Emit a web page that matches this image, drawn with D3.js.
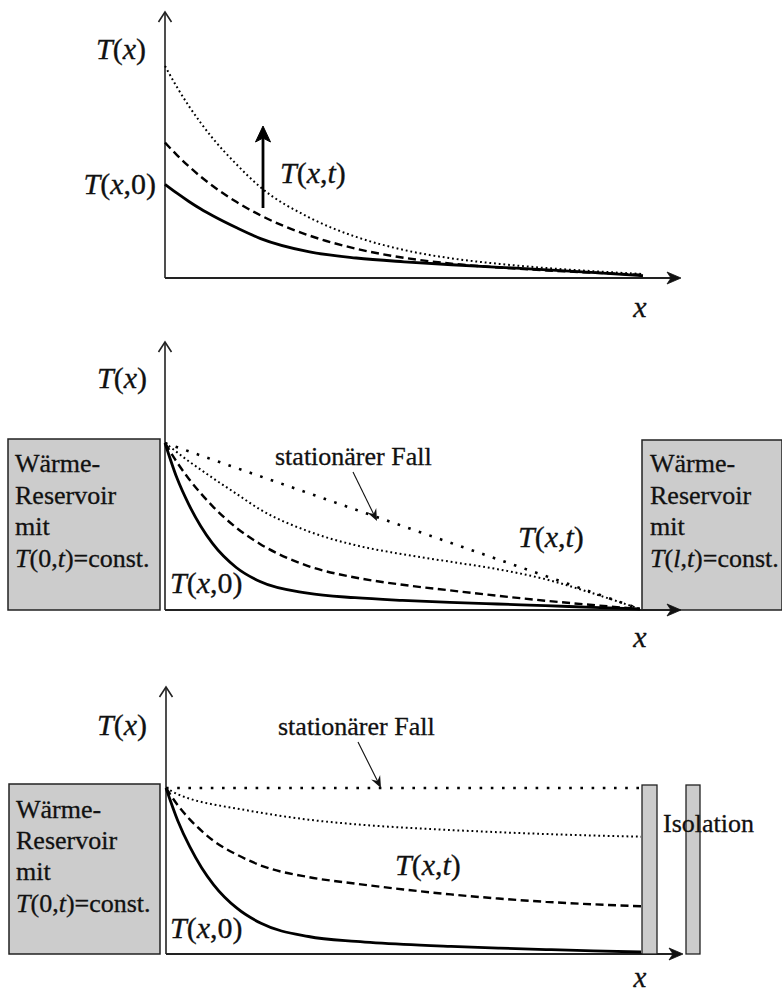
<!DOCTYPE html>
<html>
<head>
<meta charset="utf-8">
<script src="https://cdn.jsdelivr.net/npm/d3@7"></script>
<style>
  html, body { margin: 0; padding: 0; background: #fff; }
  svg { display: block; }
  text { font-family: "Liberation Serif", "Times New Roman", serif; fill: #111; stroke: #111; stroke-width: 0.3; }
</style>
</head>
<body>
<svg id="chart" width="782" height="994" font-family="'Liberation Serif', 'Times New Roman', serif"></svg>
<script>
// Position along the rod (arbitrary units 0..10) at which each profile is sampled
const xs = [0, 0.25, 0.5, 0.75, 1, 1.5, 2, 3, 4, 5, 6, 7, 8, 9, 10];

// Panel 1: free rod, temperature rising with time
const p1Initial = [4.39, 3.97, 3.58, 3.22, 2.9, 2.33, 1.82, 1.2, 0.9, 0.72, 0.58, 0.46, 0.34, 0.21, 0.06];
const p1Mid     = [6.37, 5.78, 5.24, 4.75, 4.31, 3.55, 2.92, 1.98, 1.34, 0.91, 0.63, 0.45, 0.31, 0.2, 0.1];
const p1Late    = [10, 9.0, 8.1, 7.3, 6.57, 5.33, 4.25, 2.84, 1.9, 1.28, 0.88, 0.62, 0.42, 0.27, 0.14];

// Panel 2: reservoirs at both ends
const p2Initial = [10, 7.9, 6.3, 5.0, 3.95, 2.5, 1.65, 0.95, 0.68, 0.52, 0.4, 0.3, 0.2, 0.1, 0];
const p2Mid     = [10, 8.85, 7.85, 6.98, 6.2, 4.9, 3.92, 2.6, 1.9, 1.46, 1.12, 0.8, 0.5, 0.24, 0];
const p2Late    = [10, 9.45, 8.9, 8.4, 7.9, 6.95, 6.0, 4.7, 3.85, 3.3, 2.85, 2.4, 1.8, 0.95, 0];
const p2SteadyX = [0, 10];
const p2Steady  = [10, 0];

// Panel 3: reservoir on the left, insulated right end
const p3Initial = [10, 8.0, 6.44, 5.17, 4.15, 2.7, 1.8, 1.0, 0.7, 0.52, 0.4, 0.3, 0.21, 0.13, 0.06];
const p3Mid     = [10, 8.95, 8.1, 7.4, 6.8, 5.95, 5.3, 4.6, 4.2, 3.85, 3.55, 3.3, 3.1, 2.95, 2.83];
const p3Late    = [10, 9.62, 9.35, 9.15, 9.0, 8.75, 8.5, 8.08, 7.8, 7.6, 7.45, 7.32, 7.21, 7.12, 7.05];
const p3SteadyX = [0, 10];
const p3Steady  = [10, 10];

const FONT = "'Liberation Serif', 'Times New Roman', serif";
const svg = d3.select("#chart");

const styles = {
  solid:  { width: 2.8, dash: null },
  dashed: { width: 2.4, dash: "8,4.5" },
  dotted: { width: 2.0, dash: "1.8,2.9" },
  sparse: { width: 2.6, dash: "2.6,8.6" }
};

function drawCurve(g, x, y, xv, yv, style) {
  const st = styles[style];
  const line = d3.line()
    .x(d => x(d[0]))
    .y(d => y(d[1]))
    .curve(d3.curveMonotoneX);
  g.append("path")
    .datum(d3.zip(xv, yv))
    .attr("d", line)
    .attr("fill", "none")
    .attr("stroke", "#000")
    .attr("stroke-width", st.width)
    .attr("stroke-dasharray", st.dash);
}

function drawAxes(g, x0, axisTop, base, xEnd) {
  // vertical axis with open chevron
  g.append("line").attr("x1", x0).attr("y1", base).attr("x2", x0).attr("y2", axisTop + 1)
    .attr("stroke", "#222").attr("stroke-width", 1.6);
  g.append("path")
    .attr("d", `M${x0 - 6.5},${axisTop + 10} L${x0},${axisTop} L${x0 + 6.5},${axisTop + 10}`)
    .attr("fill", "none").attr("stroke", "#222").attr("stroke-width", 1.6);
  // horizontal axis with stealth head
  g.append("line").attr("x1", x0).attr("y1", base).attr("x2", xEnd - 4).attr("y2", base)
    .attr("stroke", "#222").attr("stroke-width", 1.8);
  g.append("path")
    .attr("d", `M${xEnd},${base} L${xEnd - 14},${base - 6} L${xEnd - 10},${base} L${xEnd - 14},${base + 6} Z`)
    .attr("fill", "#111").attr("stroke", "#111").attr("stroke-width", 0.8);
}

function mathLabel(g, x, y, parts, size, anchor) {
  const t = g.append("text").attr("x", x).attr("y", y)
    .attr("font-family", FONT)
    .attr("font-size", size).attr("text-anchor", anchor || "start");
  parts.forEach(p => {
    t.append("tspan").text(p[0]).attr("font-style", p[1] ? "italic" : "normal");
  });
  return t;
}

function plainText(g, x, y, s, size) {
  return g.append("text").attr("x", x).attr("y", y)
    .attr("font-family", FONT).attr("font-size", size).text(s);
}

function reservoir(g, x, y, w, h) {
  g.append("rect").attr("x", x).attr("y", y).attr("width", w).attr("height", h)
    .attr("fill", "#cccccc").attr("stroke", "#222").attr("stroke-width", 1.5);
}

function boxText(g, x, baselines, endVar) {
  ["Wärme-", "Reservoir", "mit"].forEach((s, i) => plainText(g, x, baselines[i], s, 26));
  mathLabel(g, x, baselines[3],
    [["T", true], ["(", false], endVar, [",", false], ["t", true], [")=const.", false]], 26);
}

function pointer(g, x1, y1, x2, y2) {
  const a = Math.atan2(y2 - y1, x2 - x1);
  const L = 12, W = 5;
  const bx = x2 - L * Math.cos(a), by = y2 - L * Math.sin(a);
  const nx = -Math.sin(a), ny = Math.cos(a);
  const mx = x2 - (L * 0.65) * Math.cos(a), my = y2 - (L * 0.65) * Math.sin(a);
  g.append("line").attr("x1", x1).attr("y1", y1).attr("x2", mx).attr("y2", my)
    .attr("stroke", "#111").attr("stroke-width", 1.1);
  g.append("path")
    .attr("d", `M${x2},${y2} L${bx + nx * W},${by + ny * W} L${mx},${my} L${bx - nx * W},${by - ny * W} Z`)
    .attr("fill", "#111");
}

const Tx  = [["T", true], ["(", false], ["x", true], [")", false]];
const Tx0 = [["T", true], ["(", false], ["x", true], [",0)", false]];
const Txt = [["T", true], ["(", false], ["x", true], [",", false], ["t", true], [")", false]];

// ---------- Panel 1 ----------
{
  const g = svg.append("g");
  const x = d3.scaleLinear().domain([0, 10]).range([165, 643]);
  const y = d3.scaleLinear().domain([0, 10]).range([277, 66]);
  drawAxes(g, 165, 12, 278, 681);
  drawCurve(g, x, y, xs, p1Initial, "solid");
  drawCurve(g, x, y, xs, p1Mid, "dashed");
  drawCurve(g, x, y, xs, p1Late, "dotted");
  // time arrow
  g.append("line").attr("x1", 263).attr("y1", 208).attr("x2", 263).attr("y2", 136)
    .attr("stroke", "#000").attr("stroke-width", 2.8);
  g.append("path").attr("d", "M263,126 L270.5,142 L263,138 L255.5,142 Z").attr("fill", "#000")
    .attr("stroke", "#000").attr("stroke-width", 1);
  mathLabel(g, 146, 59, Tx, 30, "end");
  mathLabel(g, 156, 194, Tx0, 30, "end");
  mathLabel(g, 280, 183, Txt, 30);
  mathLabel(g, 640, 317, [["x", true]], 30, "middle");
}

// ---------- Panel 2 ----------
{
  const g = svg.append("g");
  const x = d3.scaleLinear().domain([0, 10]).range([165, 640]);
  const y = d3.scaleLinear().domain([0, 10]).range([609, 443]);
  reservoir(g, 8, 439, 152, 171);
  reservoir(g, 642, 440, 140, 170);
  drawAxes(g, 165, 342, 610, 681);
  drawCurve(g, x, y, xs, p2Initial, "solid");
  drawCurve(g, x, y, xs, p2Mid, "dashed");
  drawCurve(g, x, y, xs, p2Late, "dotted");
  drawCurve(g, x, y, p2SteadyX, p2Steady, "sparse");
  boxText(g, 15, [472, 504, 535, 567], ["0", false]);
  boxText(g, 650, [472, 504, 535, 567], ["l", true]);
  mathLabel(g, 147, 388, Tx, 30, "end");
  mathLabel(g, 170, 593, Tx0, 30);
  mathLabel(g, 518, 547, Txt, 30);
  plainText(g, 275, 465, "stationärer Fall", 26);
  pointer(g, 353, 472, 377, 521);
  mathLabel(g, 640, 647, [["x", true]], 30, "middle");
}

// ---------- Panel 3 ----------
{
  const g = svg.append("g");
  const x = d3.scaleLinear().domain([0, 10]).range([166, 641]);
  const y = d3.scaleLinear().domain([0, 10]).range([953, 788]);
  reservoir(g, 9, 784, 151, 170);
  drawAxes(g, 166, 687, 954, 683);
  g.append("rect").attr("x", 642).attr("y", 785).attr("width", 15).attr("height", 169)
    .attr("fill", "#cccccc").attr("stroke", "#222").attr("stroke-width", 1.3);
  g.append("rect").attr("x", 686).attr("y", 785).attr("width", 14).attr("height", 169)
    .attr("fill", "#cccccc").attr("stroke", "#222").attr("stroke-width", 1.3);
  drawCurve(g, x, y, xs, p3Initial, "solid");
  drawCurve(g, x, y, xs, p3Mid, "dashed");
  drawCurve(g, x, y, xs, p3Late, "dotted");
  drawCurve(g, x, y, p3SteadyX, p3Steady, "sparse");
  boxText(g, 16, [818, 849, 880, 912], ["0", false]);
  mathLabel(g, 147, 735, Tx, 30, "end");
  mathLabel(g, 170, 938, Tx0, 30);
  mathLabel(g, 395, 875, Txt, 30);
  plainText(g, 278, 735, "stationärer Fall", 26);
  pointer(g, 358, 742, 381, 788);
  plainText(g, 663, 832, "Isolation", 26);
  mathLabel(g, 640, 987, [["x", true]], 29, "middle");
}
</script>
</body>
</html>
